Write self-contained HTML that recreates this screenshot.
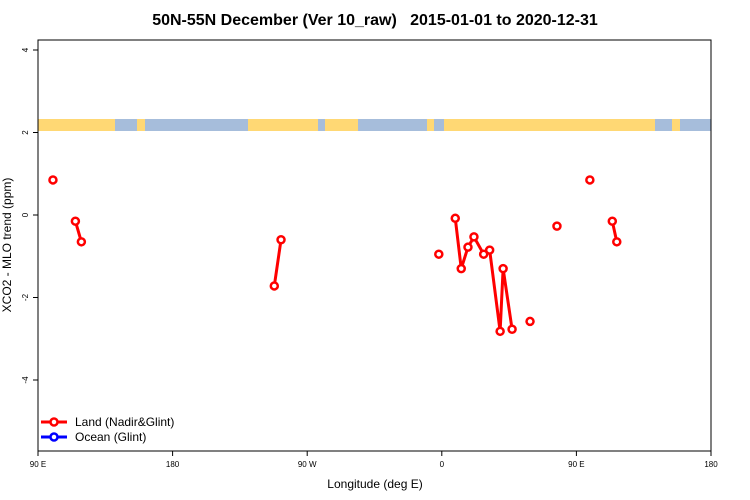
<!DOCTYPE html>
<html><head><meta charset="utf-8"><style>
body{margin:0;background:#fff}
svg{display:block;font-family:"Liberation Sans",sans-serif}
</style></head><body>
<svg id="c" width="750" height="500">
<text x="375" y="25" text-anchor="middle" font-size="16" font-weight="bold" style="white-space:pre" xml:space="preserve">50N-55N December (Ver 10_raw)   2015-01-01 to 2020-12-31</text>
<g id="strip"></g>
<g id="axes"></g>
<g id="marks"></g>
<rect x="38" y="40" width="673" height="411" fill="none" stroke="#000"/>
<text x="375" y="488" text-anchor="middle" font-size="12">Longitude (deg E)</text>
<text transform="translate(11,245) rotate(-90)" text-anchor="middle" font-size="12">XCO2 - MLO trend (ppm)</text>
<g>
<g>
<line x1="41" y1="422" x2="67" y2="422" stroke="#f00" stroke-width="3"/><circle cx="54" cy="422" r="3.5" fill="#fff" stroke="#f00" stroke-width="2.5"/>
<text x="75" y="426" font-size="12">Land (Nadir&amp;Glint)</text></g>
<g>
<line x1="41" y1="437" x2="67" y2="437" stroke="#00f" stroke-width="3"/><circle cx="54" cy="437" r="3.5" fill="#fff" stroke="#00f" stroke-width="2.5"/>
<text x="75" y="441" font-size="12">Ocean (Glint)</text></g>
</g>
</svg>
<script>
// longitude on unwrapped axis: 90..540 (90E .. 180 .. 90W .. 0 .. 90E .. 180)
const xTickLon=[90,180,270,360,450,540];
const xTickLabels=["90 E","180","90 W","0","90 E","180"];
const yTicks=[-4,-2,0,2,4];
const landLon=[100,null,115,119,null,248,252.5,null,358,null,369,373,377.5,381.5,388,392,399,401,407,null,419,null,437,null,459,null,474,477];
const landVal=[0.85,null,-0.15,-0.65,null,-1.72,-0.6,null,-0.95,null,-0.08,-1.3,-0.78,-0.53,-0.95,-0.85,-2.82,-1.3,-2.77,null,-2.58,null,-0.27,null,0.85,null,-0.15,-0.65];
const X0=38,X1=711,Y0=40,Y1=451;
const xs=l=>X0+(l-90)/450*(X1-X0);
const ys=v=>215-v*41.25;
const NS="http://www.w3.org/2000/svg";
function mk(t,a,p){const e=document.createElementNS(NS,t);for(const k in a)e.setAttribute(k,a[k]);p.appendChild(e);return e;}
const strip=document.getElementById('strip');
mk('rect',{x:X0,y:119,width:X1-X0,height:12,fill:'#A6BDDB'},strip);
[[38,115],[137,145],[248,318],[325,358],[427,434],[444,655],[672,680]].forEach(s=>mk('rect',{x:s[0],y:119,width:s[1]-s[0],height:12,fill:'#FFD874'},strip));
const ax=document.getElementById('axes');
xTickLon.forEach((l,i)=>{
 const t=mk('line',{x1:xs(l),x2:xs(l),y1:Y1,y2:Y1+5,stroke:'#000'},ax);
 
 
 const tx=mk('text',{x:xs(l),y:Y1+16,'text-anchor':'middle','font-size':8},ax);tx.textContent=xTickLabels[i];
 
 
});
yTicks.forEach(v=>{
 const t=mk('line',{x1:X0-5,x2:X0,y1:ys(v),y2:ys(v),stroke:'#000'},ax);
 
 
 const tx=mk('text',{x:0,y:0,'text-anchor':'middle','font-size':8,transform:`translate(${X0-10},${ys(v)}) rotate(-90)`},ax);tx.textContent=v;
 
 
});
const m=document.getElementById('marks');
let seg=[];
function flush(){if(seg.length>1){const p=mk('polyline',{points:seg.join(' '),fill:'none',stroke:'#f00','stroke-width':3},m);
 
 }seg=[];}
landLon.forEach((l,i)=>{if(l===null){flush();return;}seg.push(xs(l)+','+ys(landVal[i]));});flush();
landLon.forEach((l,i)=>{if(l===null)return;
 const c=mk('circle',{cx:xs(l),cy:ys(landVal[i]),r:3.5,fill:'#fff',stroke:'#f00','stroke-width':2.5},m);
 
 
});
</script>
</body></html>
